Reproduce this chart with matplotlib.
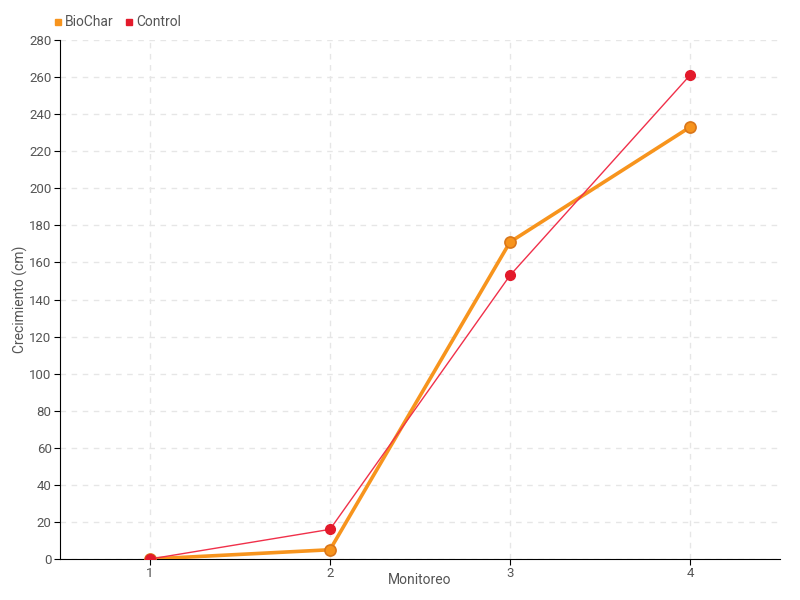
import matplotlib.pyplot as plt
from matplotlib.lines import Line2D

plt.rcParams['font.family'] = 'Roboto'

# Data
monitoreo = [1, 2, 3, 4]
biochar = [0, 5, 171, 233]
control = [0, 16, 153, 261]
yticks = list(range(0, 281, 20))

fig = plt.figure(figsize=(8, 6), dpi=100)
ax = fig.add_axes([0.075, 0.0683, 0.9, 0.865])

ax.plot(monitoreo, biochar, color='#f7941d', lw=2.6, marker='o', ms=8,
        mfc='#f7941d', mec='#d9761a', mew=1.2, label='BioChar', zorder=3)
ax.plot(monitoreo, control, color='#f0304a', lw=1, marker='o', ms=7,
        mfc='#e31a2b', mec='#e31a2b', label='Control', zorder=4)

ax.set_xlim(0.5, 4.5)
ax.set_ylim(0, 280)
ax.set_xticks(monitoreo)
ax.set_yticks(yticks)
ax.tick_params(colors='#555555', labelsize=9.5, length=4, pad=2)
ax.tick_params(axis='both', color='black')

ax.grid(True, color='#e6e6e6', linestyle=(0, (4, 4)), lw=1)
ax.set_axisbelow(True)
for s in ['top', 'right']:
    ax.spines[s].set_visible(False)
ax.spines['left'].set_color('black')
ax.spines['bottom'].set_color('black')

ax.set_xlabel('Monitoreo', color='#555555', fontsize=10)
ax.set_ylabel('Crecimiento (cm)', color='#555555', fontsize=10)
ax.xaxis.set_label_coords(0.5, -0.026)
ax.yaxis.set_label_coords(-0.045, 0.5)

handles = [Line2D([], [], ls='', marker='s', ms=5, color='#f7941d'),
           Line2D([], [], ls='', marker='s', ms=5, color='#e31a2b')]
leg = fig.legend(handles, ['BioChar', 'Control'], loc='upper left',
                 bbox_to_anchor=(0.052, 0.995), ncol=2, frameon=False,
                 fontsize=10, handlelength=0.6, handletextpad=0.2,
                 columnspacing=0.8, labelcolor='#555555')

fig.savefig('out.png', dpi=100)
